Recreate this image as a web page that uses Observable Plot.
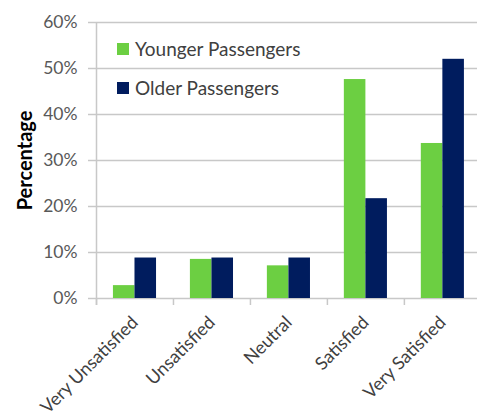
<!DOCTYPE html>
<html><head><meta charset="utf-8">
<script src="https://cdn.jsdelivr.net/npm/d3@7"></script>
<script src="https://cdn.jsdelivr.net/npm/@observablehq/plot@0.6"></script>
<style>
body{margin:0;background:#fff;}
#wrap{position:relative;width:477px;height:418px;font-family:Lato,"Open Sans",sans-serif;}
.legend{position:absolute;left:117px;top:29px;font-size:19px;color:#404040;}
.legend .item{display:flex;align-items:center;height:39px;}
.legend .sw{width:12px;height:12px;margin-right:6px;display:inline-block;}
</style></head><body><div id="wrap"></div>
<script>
const categories = ["Very Unsatisfied","Unsatisfied","Neutral","Satisfied","Very Satisfied"];
const seriesNames = ["Younger Passengers","Older Passengers"];
const younger = [2.8, 8.5, 7.1, 47.6, 33.7];
const older = [8.8, 8.8, 8.8, 21.7, 52.0];
const yTicks = [0,10,20,30,40,50,60];
const colors = ["#6ccf42","#001c5e"];

const rows = [];
categories.forEach((c,i)=>{
  rows.push({cat:c, i, s:0, series:seriesNames[0], value:younger[i]});
  rows.push({cat:c, i, s:1, series:seriesNames[1], value:older[i]});
});

const gridColor = "#c8c8c8";
const plot = Plot.plot({
  width:477, height:418, marginLeft:96, marginRight:0, marginTop:22, marginBottom:120,
  style:{fontFamily:"Lato, 'Open Sans', sans-serif", fontSize:"17px", background:"white", color:"#595959"},
  x:{domain:[0,4.95], axis:null},
  y:{domain:[0,60], axis:null},
  color:{domain:seriesNames, range:colors},
  marks:[
    Plot.gridY(yTicks, {stroke:gridColor, strokeOpacity:1, strokeWidth:1.5}),
    Plot.axisY({ticks:yTicks, label:null, tickSize:8, tickPadding:11, tickFormat:d=>d+"%", stroke:gridColor, strokeWidth:1.5, fill:"#595959", fontSize:17.5}),
    Plot.ruleX([0], {stroke:gridColor, strokeWidth:1.5, insetBottom:-7}),
    Plot.axisX({ticks:categories.map((c,i)=>i), label:null, tickSize:7, tickFormat:()=>"", stroke:gridColor, strokeWidth:1.5}),
    Plot.axisX({ticks:categories.map((c,i)=>i+0.5), label:null, tickSize:0, tickPadding:21, tickRotate:-45, tickFormat:d=>categories[Math.floor(d)], fill:"#404040", fontSize:18}),
    Plot.rectY(rows, {x1:d=>d.i + (d.s===0?0.22:0.5), x2:d=>d.i + (d.s===0?0.5:0.78), y:"value", fill:"series"}),
    Plot.text(["Percentage"], {frameAnchor:"left", textAnchor:"middle", dx:-71, rotate:-90, fontWeight:"bold", fill:"black", fontSize:20})
  ]
});
const wrap = document.getElementById("wrap");
wrap.appendChild(plot);
const leg = document.createElement("div");
leg.className = "legend";
seriesNames.forEach((n,k)=>{
  const it = document.createElement("div"); it.className="item";
  const sw = document.createElement("span"); sw.className="sw"; sw.style.background=colors[k];
  const t = document.createElement("span"); t.textContent=n;
  it.appendChild(sw); it.appendChild(t); leg.appendChild(it);
});
wrap.appendChild(leg);
</script></body></html>
